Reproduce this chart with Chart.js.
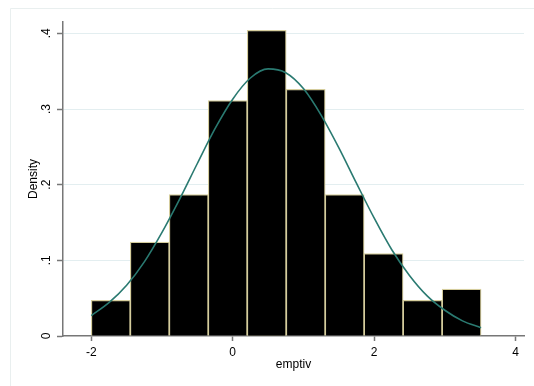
<!DOCTYPE html>
<html>
<head>
<meta charset="utf-8">
<script src="https://cdn.jsdelivr.net/npm/chart.js@4.4.1/dist/chart.umd.min.js"></script>
<style>
  html, body { margin: 0; padding: 0; background: #ffffff; }
  #wrap { width: 534px; height: 386px; }
</style>
</head>
<body>
<div id="wrap"><canvas id="c" width="534" height="386"></canvas></div>
<script>
// Histogram of emptiv: bin edges and density per bin
const binEdges = [-2, -1.449, -0.897, -0.346, 0.205, 0.757, 1.308, 1.859, 2.410, 2.962, 3.513];
const binDensity = [0.047, 0.124, 0.187, 0.311, 0.404, 0.326, 0.187, 0.109, 0.047, 0.062];

// Overlaid normal density curve
const curveX = [-2, -1.75, -1.5, -1.25, -1, -0.75, -0.5, -0.25, 0, 0.25, 0.5, 0.75, 1, 1.25, 1.5, 1.75, 2, 2.25, 2.5, 2.75, 3, 3.25, 3.513];
const curveY = [0.027, 0.044, 0.067, 0.098, 0.137, 0.181, 0.228, 0.274, 0.313, 0.341, 0.353, 0.348, 0.327, 0.292, 0.249, 0.202, 0.156, 0.114, 0.080, 0.053, 0.034, 0.020, 0.011];

// Axis ticks and titles
const xTicks = [-2, 0, 2, 4];
const xTickLabels = ['-2', '0', '2', '4'];
const yTicks = [0, 0.1, 0.2, 0.3, 0.4];
const yTickLabels = ['0', '.1', '.2', '.3', '.4'];
const xTitle = 'emptiv';
const yTitle = 'Density';

const FONT = '"Liberation Sans", Arial, Helvetica, sans-serif';

const barPoints = binDensity.map((d, i) => ({ x: (binEdges[i] + binEdges[i + 1]) / 2, y: d }));
const curvePoints = curveX.map((x, i) => ({ x: x, y: curveY[i] }));

// Faint outer frame of the graph region
const framePlugin = {
  id: 'frame',
  beforeDraw(chart) {
    const ctx = chart.ctx;
    ctx.save();
    ctx.fillStyle = '#ffffff';
    ctx.fillRect(0, 0, chart.width, chart.height);
    ctx.strokeStyle = '#e9efef';
    ctx.lineWidth = 1;
    ctx.beginPath();
    ctx.moveTo(10.5, chart.height);
    ctx.lineTo(10.5, 8.5);
    ctx.lineTo(chart.width, 8.5);
    ctx.stroke();
    ctx.restore();
  }
};

// Vertical (rotated) y tick labels
const yLabelPlugin = {
  id: 'yLabels',
  afterDraw(chart) {
    const ctx = chart.ctx;
    const y = chart.scales.y;
    ctx.save();
    ctx.fillStyle = '#000000';
    ctx.font = '12px ' + FONT;
    ctx.textAlign = 'center';
    ctx.textBaseline = 'middle';
    yTicks.forEach((v, i) => {
      ctx.save();
      ctx.translate(y.right - 16, y.getPixelForValue(v));
      ctx.rotate(-Math.PI / 2);
      ctx.fillText(yTickLabels[i], 0, 0);
      ctx.restore();
    });
    ctx.restore();
  }
};

new Chart(document.getElementById('c'), {
  type: 'bar',
  data: {
    datasets: [
      {
        type: 'line',
        data: curvePoints,
        borderColor: '#2a7a71',
        borderWidth: 1.6,
        pointRadius: 0,
        fill: false,
        cubicInterpolationMode: 'monotone'
      },
      {
        type: 'bar',
        data: barPoints,
        backgroundColor: '#000000',
        borderColor: '#d5cd9d',
        borderWidth: 1.2,
        barPercentage: 1,
        categoryPercentage: 1
      }
    ]
  },
  options: {
    responsive: false,
    animation: false,
    devicePixelRatio: 1,
    layout: { padding: { left: 0, top: 22, right: 10, bottom: 0 } },
    plugins: {
      legend: { display: false },
      tooltip: { enabled: false }
    },
    scales: {
      x: {
        type: 'linear',
        min: -2.4,
        max: 4.12,
        offset: false,
        afterBuildTicks: s => { s.ticks = xTicks.map(v => ({ value: v })); },
        afterFit: s => { s.height = 50; },
        grid: {
          offset: false,
          drawOnChartArea: false,
          drawTicks: true,
          tickLength: 5,
          tickColor: '#777777',
          tickWidth: 1.5
        },
        border: { color: '#777777', width: 1.5 },
        ticks: {
          color: '#000000',
          font: { family: FONT, size: 12 },
          padding: 4,
          maxRotation: 0,
          callback: (v) => { const i = xTicks.indexOf(v); return i >= 0 ? xTickLabels[i] : ''; }
        },
        title: {
          display: true,
          text: xTitle,
          color: '#000000',
          font: { family: FONT, size: 12 },
          padding: { top: 0, bottom: 14 }
        }
      },
      y: {
        type: 'linear',
        min: 0,
        max: 0.415,
        afterBuildTicks: s => { s.ticks = yTicks.map(v => ({ value: v })); },
        afterFit: s => { s.width = 63; },
        grid: {
          color: (c) => (c.tick && c.tick.value === 0 ? 'rgba(0,0,0,0)' : '#e3eef0'),
          lineWidth: 1,
          drawTicks: true,
          tickLength: 6,
          tickColor: '#777777',
          tickWidth: 1.5
        },
        border: { color: '#777777', width: 1.5 },
        ticks: { display: false },
        title: {
          display: true,
          text: yTitle,
          color: '#000000',
          font: { family: FONT, size: 12 },
          padding: { top: 26, bottom: 0 }
        }
      }
    }
  },
  plugins: [framePlugin, yLabelPlugin]
});
</script>
</body>
</html>
